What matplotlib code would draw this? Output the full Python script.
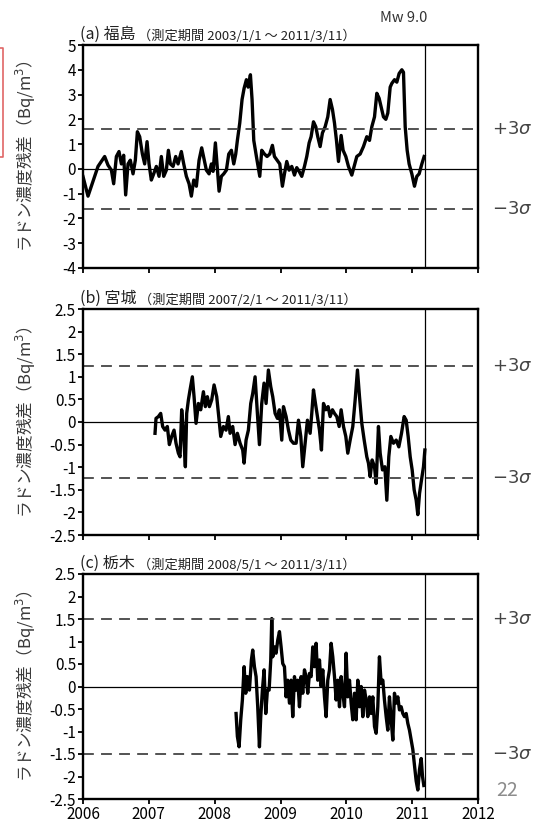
import numpy as np
import matplotlib
matplotlib.use("Agg")
import matplotlib.pyplot as plt
from matplotlib.lines import Line2D

plt.rcParams['font.family'] = ['Noto Sans CJK JP', 'DejaVu Sans']
plt.rcParams['axes.unicode_minus'] = False
plt.rcParams['mathtext.fontset'] = 'dejavusans'

# ============================================
# data
# ============================================
fukushima_t = [2006.000, 2006.051, 2006.076, 2006.127, 2006.177, 2006.228, 2006.279, 2006.329,
               2006.380, 2006.431, 2006.466, 2006.507, 2006.547, 2006.583, 2006.618, 2006.648,
               2006.684, 2006.719, 2006.760, 2006.795, 2006.826, 2006.861, 2006.902, 2006.937,
               2006.973, 2007.003, 2007.038, 2007.074, 2007.114, 2007.155, 2007.190, 2007.226,
               2007.266, 2007.297, 2007.327, 2007.368, 2007.408, 2007.444, 2007.494, 2007.530,
               2007.570, 2007.611, 2007.646, 2007.682, 2007.722, 2007.763, 2007.803, 2007.834,
               2007.874, 2007.915, 2007.950, 2007.976, 2008.011, 2008.036, 2008.067, 2008.102,
               2008.138, 2008.178, 2008.214, 2008.254, 2008.290, 2008.320, 2008.345, 2008.381,
               2008.416, 2008.447, 2008.482, 2008.508, 2008.543, 2008.568, 2008.594, 2008.634,
               2008.685, 2008.715, 2008.756, 2008.796, 2008.837, 2008.877, 2008.908, 2008.948,
               2008.989, 2009.029, 2009.060, 2009.095, 2009.131, 2009.171, 2009.212, 2009.247,
               2009.283, 2009.323, 2009.364, 2009.399, 2009.435, 2009.465, 2009.501, 2009.536,
               2009.566, 2009.602, 2009.637, 2009.678, 2009.718, 2009.754, 2009.789, 2009.820,
               2009.850, 2009.881, 2009.921, 2009.951, 2009.992, 2010.032, 2010.083, 2010.124,
               2010.159, 2010.210, 2010.260, 2010.311, 2010.352, 2010.387, 2010.428, 2010.463,
               2010.498, 2010.529, 2010.564, 2010.600, 2010.630, 2010.666, 2010.691, 2010.732,
               2010.767, 2010.802, 2010.843, 2010.868, 2010.894, 2010.924, 2010.954, 2010.995,
               2011.035, 2011.071, 2011.106, 2011.147, 2011.182]
fukushima_v = [-0.31, -0.85, -1.10, -0.70, -0.30, 0.10, 0.30, 0.50,
               0.15, -0.05, -0.60, 0.50, 0.70, 0.20, 0.55, -1.05,
               0.20, 0.35, -0.20, 0.35, 1.50, 1.30, 0.60, 0.20,
               1.10, 0.20, -0.45, -0.20, 0.10, -0.30, 0.50, -0.30,
               -0.05, 0.75, 0.20, 0.10, 0.50, 0.20, 0.70, 0.20,
               -0.30, -0.60, -1.10, -0.45, -0.70, 0.35, 0.85, 0.45,
               -0.05, -0.20, 0.20, -0.10, 1.05, 0.20, -0.90, -0.30,
               -0.20, -0.05, 0.60, 0.75, 0.20, 0.60, 1.15, 1.85,
               2.80, 3.25, 3.60, 3.30, 3.80, 2.80, 1.15, 0.50,
               -0.30, 0.75, 0.60, 0.50, 0.60, 0.95, 0.50, 0.35,
               0.20, -0.70, -0.20, 0.30, -0.05, 0.10, -0.25, 0.05,
               -0.10, -0.30, 0.10, 0.50, 1.05, 1.30, 1.90, 1.70,
               1.30, 0.90, 1.45, 1.70, 2.10, 2.80, 2.40, 1.85,
               1.15, 0.30, 1.35, 0.75, 0.50, 0.10, -0.25, 0.15,
               0.50, 0.60, 0.90, 1.30, 1.15, 1.70, 2.10, 3.05,
               2.85, 2.50, 2.10, 2.00, 2.25, 3.30, 3.45, 3.60,
               3.50, 3.85, 4.00, 3.90, 1.70, 0.75, 0.20, -0.20,
               -0.70, -0.30, -0.20, 0.20, 0.50]

miyagi_t = [2007.094, 2007.109, 2007.145, 2007.180, 2007.210, 2007.246, 2007.281, 2007.312,
            2007.347, 2007.383, 2007.413, 2007.449, 2007.474, 2007.499, 2007.525, 2007.555,
            2007.575, 2007.601, 2007.626, 2007.661, 2007.687, 2007.717, 2007.753, 2007.788,
            2007.829, 2007.859, 2007.889, 2007.920, 2007.955, 2007.991, 2008.031, 2008.062,
            2008.092, 2008.133, 2008.173, 2008.208, 2008.234, 2008.274, 2008.310, 2008.345,
            2008.386, 2008.426, 2008.447, 2008.477, 2008.512, 2008.548, 2008.578, 2008.614,
            2008.649, 2008.680, 2008.715, 2008.750, 2008.781, 2008.816, 2008.852, 2008.882,
            2008.918, 2008.953, 2008.983, 2009.019, 2009.045, 2009.085, 2009.121, 2009.156,
            2009.197, 2009.237, 2009.273, 2009.308, 2009.338, 2009.374, 2009.409, 2009.450,
            2009.475, 2009.501, 2009.531, 2009.561, 2009.592, 2009.622, 2009.653, 2009.688,
            2009.723, 2009.754, 2009.789, 2009.820, 2009.855, 2009.891, 2009.921, 2009.957,
            2009.992, 2010.022, 2010.058, 2010.098, 2010.134, 2010.169, 2010.200, 2010.235,
            2010.271, 2010.311, 2010.336, 2010.362, 2010.392, 2010.428, 2010.453, 2010.488,
            2010.514, 2010.549, 2010.585, 2010.615, 2010.645, 2010.676, 2010.716, 2010.757,
            2010.797, 2010.838, 2010.878, 2010.909, 2010.939, 2010.970, 2011.000, 2011.030,
            2011.061, 2011.086, 2011.112, 2011.142, 2011.172, 2011.193]
miyagi_v = [-0.25, 0.08, 0.12, 0.19, -0.10, -0.18, -0.10, -0.50,
            -0.32, -0.18, -0.47, -0.69, -0.77, 0.27, -0.18, -0.99,
            0.19, 0.49, 0.71, 1.00, 0.56, -0.03, 0.41, 0.27,
            0.67, 0.34, 0.56, 0.34, 0.49, 0.82, 0.56, 0.12,
            -0.32, -0.10, -0.18, 0.12, -0.25, -0.10, -0.50, -0.25,
            -0.47, -0.62, -0.91, -0.40, -0.18, 0.41, 0.63, 1.00,
            0.19, -0.50, 0.41, 0.86, 0.41, 1.15, 0.78, 0.56,
            0.19, 0.08, 0.27, -0.40, 0.34, 0.12, -0.18, -0.40,
            -0.47, -0.47, 0.04, -0.32, -0.99, -0.47, 0.04, -0.25,
            0.19, 0.71, 0.41, 0.12, -0.18, -0.62, 0.41, 0.27,
            0.34, 0.12, 0.27, 0.19, 0.12, -0.10, 0.27, -0.10,
            -0.32, -0.69, -0.40, -0.10, 0.49, 1.15, 0.56, -0.03,
            -0.40, -0.77, -0.91, -1.21, -0.84, -0.99, -1.36, -0.10,
            -0.69, -1.06, -0.99, -1.73, -0.77, -0.32, -0.47, -0.40,
            -0.55, -0.25, 0.12, 0.04, -0.32, -0.77, -1.06, -1.50,
            -1.73, -2.05, -1.58, -1.28, -0.99, -0.62]

tochigi_t = [2008.325, 2008.345, 2008.371, 2008.396, 2008.421, 2008.447, 2008.472, 2008.497,
             2008.528, 2008.558, 2008.578, 2008.604, 2008.629, 2008.654, 2008.680, 2008.700,
             2008.725, 2008.751, 2008.776, 2008.801, 2008.827, 2008.852, 2008.867, 2008.882,
             2008.908, 2008.933, 2008.958, 2008.984, 2009.009, 2009.034, 2009.060, 2009.085,
             2009.110, 2009.136, 2009.161, 2009.186, 2009.212, 2009.237, 2009.262, 2009.288,
             2009.313, 2009.338, 2009.364, 2009.389, 2009.414, 2009.440, 2009.465, 2009.490,
             2009.516, 2009.541, 2009.566, 2009.592, 2009.617, 2009.642, 2009.668, 2009.693,
             2009.718, 2009.744, 2009.769, 2009.794, 2009.820, 2009.845, 2009.870, 2009.896,
             2009.921, 2009.946, 2009.972, 2009.997, 2010.022, 2010.048, 2010.073, 2010.098,
             2010.124, 2010.149, 2010.174, 2010.200, 2010.225, 2010.250, 2010.276, 2010.301,
             2010.326, 2010.352, 2010.377, 2010.402, 2010.428, 2010.453, 2010.478, 2010.503,
             2010.529, 2010.554, 2010.579, 2010.605, 2010.630, 2010.655, 2010.681, 2010.706,
             2010.731, 2010.757, 2010.782, 2010.807, 2010.833, 2010.858, 2010.883, 2010.909,
             2010.934, 2010.959, 2010.985, 2011.010, 2011.035, 2011.061, 2011.086, 2011.111,
             2011.137, 2011.157, 2011.177]
tochigi_v = [-0.60, -1.11, -1.34, -0.74, -0.30, 0.44, -0.15, 0.22,
             -0.08, 0.59, 0.81, 0.44, 0.22, -0.45, -1.34, -0.67,
             -0.08, 0.37, -0.60, -0.08, -0.08, 0.59, 1.51, 0.66,
             0.88, 0.74, 1.03, 1.22, 0.88, 0.51, 0.44, -0.23,
             0.14, -0.37, 0.14, -0.67, 0.22, -0.08, 0.14, -0.45,
             0.22, -0.15, 0.37, 0.22, -0.15, 0.29, 0.22, 0.88,
             0.44, 0.96, 0.14, 0.59, 0.00, 0.37, -0.23, -0.67,
             0.14, 0.37, 0.96, 0.66, 0.22, -0.30, 0.14, -0.45,
             0.22, -0.15, -0.45, 0.74, -0.23, 0.14, -0.37, -0.74,
             -0.15, -0.74, 0.14, -0.45, 0.00, -0.67, -0.08, -0.30,
             -0.67, -0.23, -0.60, -0.23, -0.89, -1.04, -0.45, 0.66,
             0.07, 0.14, -0.30, -0.67, -0.97, -0.23, -0.74, -1.19,
             -0.15, -0.37, -0.23, -0.52, -0.45, -0.60, -0.67, -0.60,
             -0.82, -0.97, -1.19, -1.40, -1.75, -2.10, -2.30, -1.85,
             -1.60, -2.00, -2.20]

panel_labels = ["(a) 福島", "(b) 宮城", "(c) 栃木"]
panel_periods = ["（測定期間 2003/1/1 ～ 2011/3/11）",
                 "（測定期間 2007/2/1 ～ 2011/3/11）",
                 "（測定期間 2008/5/1 ～ 2011/3/11）"]
sigma3 = [1.6, 1.24, 1.5]
ylims = [(-4, 5), (-2.5, 2.5), (-2.5, 2.5)]
ytick_step = [1, 0.5, 0.5]
year_ticks = [2006, 2007, 2008, 2009, 2010, 2011, 2012]
quake_time = 2011.19   # 2011/3/11

series = [(fukushima_t, fukushima_v), (miyagi_t, miyagi_v), (tochigi_t, tochigi_v)]

# ============================================
# figure
# ============================================
fig = plt.figure(figsize=(5.49, 8.32), dpi=100)
W, H = 549, 832
boxes = [(45, 268), (309, 535), (574, 799)]   # top, bottom in px
left_px, right_px = 83, 478

renderer = fig.canvas.get_renderer()
for i, (t, v) in enumerate(series):
    top, bot = boxes[i]
    ax = fig.add_axes([left_px / W, 1 - bot / H, (right_px - left_px) / W, (bot - top) / H])

    ax.plot(t, v, color="black", lw=2.4, solid_joinstyle="round")
    ax.axhline(0, color="black", lw=0.9)
    ax.axhline(sigma3[i], color="#444444", lw=1.3, ls=(0, (6, 4)))
    ax.axhline(-sigma3[i], color="#444444", lw=1.3, ls=(0, (6, 4)))
    ax.axvline(quake_time, color="black", lw=0.9)

    ax.set_xlim(2006, 2012)
    ax.set_ylim(*ylims[i])
    ax.set_xticks(year_ticks)
    yt = np.arange(ylims[i][0], ylims[i][1] + 0.01, ytick_step[i])
    ax.set_yticks(yt)
    ax.set_yticklabels([f"{y:g}" for y in yt])
    if i < 2:
        ax.set_xticklabels([])
    else:
        ax.set_xticklabels([str(y) for y in year_ticks])
    ax.tick_params(direction="out", length=3.5, width=1.3, labelsize=11,
                   colors="black", pad=1.5)
    for s in ax.spines.values():
        s.set_linewidth(1.7)

    ax.set_ylabel("ラドン濃度残差（Bq/m$^3$）", fontsize=12, color="#3a3a3a")
    ax.yaxis.set_label_coords(-0.115, 0.5)

    # +3σ / -3σ labels
    ax.text(1.035, sigma3[i], r"$+3\sigma$", transform=ax.get_yaxis_transform(),
            fontsize=13, color="#444444", va="center", ha="left")
    ax.text(1.035, -sigma3[i], r"$-3\sigma$", transform=ax.get_yaxis_transform(),
            fontsize=13, color="#444444", va="center", ha="left")

    # panel title in two sizes
    t1 = ax.text(-0.008, 1.01, panel_labels[i], transform=ax.transAxes,
                 fontsize=11.5, va="bottom", ha="left", color="#222222")
    ext = t1.get_window_extent(renderer=renderer)
    x2 = ax.transAxes.inverted().transform((ext.x1 + 3, ext.y0))[0]
    ax.text(x2, 1.01, panel_periods[i], transform=ax.transAxes,
            fontsize=9.5, va="bottom", ha="left", color="#222222")

fig.text(404 / W, 1 - 18 / H, "Mw 9.0", fontsize=10.5, color="#333333",
         ha="center", va="center")
fig.text(507 / W, 1 - 790 / H, "22", fontsize=14, color="#8c8c8c",
         ha="center", va="center")

# clipped red frame at the left edge
fig.add_artist(Line2D([0, 3 / W, 3 / W, 0], [1 - 48 / H, 1 - 48 / H, 1 - 157 / H, 1 - 157 / H],
                      transform=fig.transFigure, color="#e06666", lw=1.2))

fig.savefig("out.png", dpi=100)
